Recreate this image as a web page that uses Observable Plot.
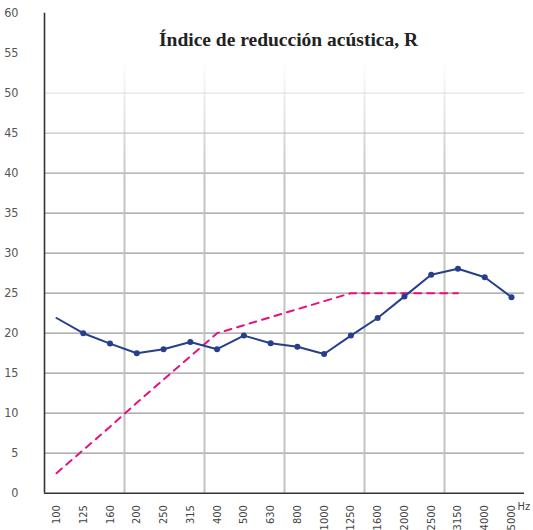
<!DOCTYPE html>
<html><head><meta charset="utf-8">
<script src="https://cdn.jsdelivr.net/npm/d3@7"></script>
<script src="https://cdn.jsdelivr.net/npm/@observablehq/plot@0.6"></script>
<style>body{margin:0;background:#fff}</style>
</head><body><div id="chart"></div>
<script>
const frequencies = ["100","125","160","200","250","315","400","500","630","800","1000","1250","1600","2000","2500","3150","4000","5000"];
const measured = [21.9,20.0,18.7,17.5,18.0,18.9,18.0,19.7,18.75,18.3,17.4,19.7,21.9,24.6,27.3,28.05,27.0,24.5];
const reference = [2.5,5.4,8.3,11.3,14.2,17.1,20,21,22,23,24,25,25,25,25,25];
const yTicks = [0,5,10,15,20,25,30,35,40,45,50,55,60];
const gridY = [5,10,15,20,25,30,35,40,45,50,55];
const title = "Índice de reducción acústica, R";
const unit = "Hz";

const measuredData = measured.map((v, i) => ({i, v, f: frequencies[i]}));
const referenceData = reference.map((v, i) => ({i, v, f: frequencies[i]}));
const xDomain = [-0.448, 17.486];
const gridX = d3.range(1, 6).map(k => xDomain[0] + (xDomain[1] - xDomain[0]) * k / 6);

const narrow = "'Liberation Sans Narrow', 'DejaVu Sans Condensed', 'Roboto', sans-serif";

const chart = Plot.plot({
  width: 533, height: 530,
  marginLeft: 44, marginRight: 9, marginTop: 12.7, marginBottom: 37.3,
  style: {fontFamily: narrow, background: "#fff", overflow: "visible"},
  x: {type: "linear", domain: xDomain},
  y: {domain: [0, 60]},
  marks: [
    Plot.ruleY(gridY, {stroke: "url(#fadeH)", strokeWidth: 1.2}),
    Plot.ruleX(gridX, {stroke: "url(#fadeV)", strokeWidth: 2, y1: 0, y2: 60}),
    Plot.axisY(yTicks, {tickSize: 0, tickPadding: 26, fontSize: 12.5, fill: "#555", label: null}),
    Plot.axisX(d3.range(frequencies.length), {tickSize: 0, tickRotate: -90, tickPadding: 12, tickFormat: i => frequencies[i], fontSize: 11, fill: "#444", label: null}),
    Plot.ruleX([xDomain[0]], {y1: 0, y2: 60, stroke: "#333", strokeWidth: 1.6}),
    Plot.ruleY([0], {x1: xDomain[0], x2: xDomain[1], stroke: "#333", strokeWidth: 1.6}),
    Plot.line(referenceData, {x: "i", y: "v", stroke: "#e8107f", strokeWidth: 2, strokeDasharray: "7,6"}),
    Plot.line(measuredData, {x: "i", y: "v", stroke: "#273f8b", strokeWidth: 2}),
    Plot.dot(measuredData.slice(1), {x: "i", y: "v", r: 3, fill: "#273f8b"}),
    Plot.text([title], {frameAnchor: "top", lineAnchor: "top", dy: 19, dx: 4, fontFamily: "'Liberation Serif', 'DejaVu Serif', serif", fontWeight: "bold", fontSize: 19.5, fill: "#222"}),
    Plot.text([unit], {x: xDomain[1], y: 0, dx: -7, dy: 13, textAnchor: "start", fontSize: 11, fill: "#444"})
  ]
});

const ns = "http://www.w3.org/2000/svg";
const defs = document.createElementNS(ns, "defs");
defs.innerHTML = `
<linearGradient id="fadeH" gradientUnits="userSpaceOnUse" x1="0" y1="60" x2="0" y2="185">
  <stop offset="0" stop-color="#999" stop-opacity="0"/>
  <stop offset="1" stop-color="#999" stop-opacity="1"/>
</linearGradient>
<linearGradient id="fadeV" gradientUnits="userSpaceOnUse" x1="0" y1="60" x2="0" y2="185">
  <stop offset="0" stop-color="#c2c2c2" stop-opacity="0"/>
  <stop offset="1" stop-color="#c2c2c2" stop-opacity="1"/>
</linearGradient>`;
chart.insertBefore(defs, chart.firstChild);
document.getElementById("chart").appendChild(chart);
</script>
</body></html>
